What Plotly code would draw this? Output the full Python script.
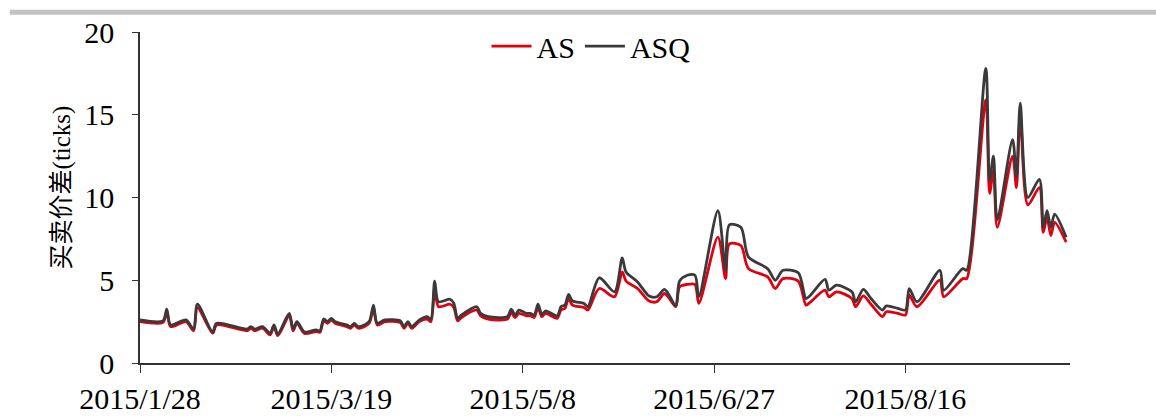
import plotly.graph_objects as go

dates = [
    "2015-01-28", "2015-02-03", "2015-02-04", "2015-02-05", "2015-02-09", "2015-02-11",
    "2015-02-12", "2015-02-16", "2015-02-17", "2015-02-25", "2015-02-26", "2015-02-27",
    "2015-03-01", "2015-03-03", "2015-03-04", "2015-03-05", "2015-03-08", "2015-03-09",
    "2015-03-10", "2015-03-12", "2015-03-15", "2015-03-16", "2015-03-17", "2015-03-18",
    "2015-03-19", "2015-03-20", "2015-03-23", "2015-03-24", "2015-03-25", "2015-03-26",
    "2015-03-28", "2015-03-29", "2015-03-30", "2015-03-31", "2015-04-02", "2015-04-06",
    "2015-04-07", "2015-04-08", "2015-04-09", "2015-04-11", "2015-04-13", "2015-04-14",
    "2015-04-15", "2015-04-16", "2015-04-19", "2015-04-20", "2015-04-21", "2015-04-22",
    "2015-04-26", "2015-04-27", "2015-04-29", "2015-05-04", "2015-05-05", "2015-05-06",
    "2015-05-07", "2015-05-09", "2015-05-10", "2015-05-11", "2015-05-12", "2015-05-13",
    "2015-05-14", "2015-05-17", "2015-05-18", "2015-05-19", "2015-05-20", "2015-05-21",
    "2015-05-24", "2015-05-25", "2015-05-28", "2015-06-01", "2015-06-03", "2015-06-04",
    "2015-06-07", "2015-06-10", "2015-06-12", "2015-06-14", "2015-06-15", "2015-06-17",
    "2015-06-18", "2015-06-20", "2015-06-22", "2015-06-23", "2015-06-28", "2015-06-30",
    "2015-07-01", "2015-07-04", "2015-07-06", "2015-07-11", "2015-07-13", "2015-07-15",
    "2015-07-19", "2015-07-21", "2015-07-22", "2015-07-26", "2015-07-27", "2015-07-29",
    "2015-08-02", "2015-08-03", "2015-08-05", "2015-08-07", "2015-08-10", "2015-08-11",
    "2015-08-14", "2015-08-16", "2015-08-17", "2015-08-19", "2015-08-25", "2015-08-26",
    "2015-08-31", "2015-09-01", "2015-09-06", "2015-09-07", "2015-09-08", "2015-09-09",
    "2015-09-13", "2015-09-14", "2015-09-15", "2015-09-17", "2015-09-20", "2015-09-21",
    "2015-09-22", "2015-09-23", "2015-09-24", "2015-09-27",
]

asq = [
    2.6, 2.55, 3.26, 2.3, 2.6, 2.05,
    3.56, 1.87, 2.4, 2.05, 2.2, 2.05,
    2.2, 1.8, 2.3, 1.75, 3.0, 2.05,
    2.5, 1.87, 2.0, 1.93, 2.66, 2.5,
    2.7, 2.5, 2.3, 2.2, 2.4, 2.2,
    2.35, 2.55, 3.5, 2.4, 2.6, 2.55,
    2.2, 2.5, 2.2, 2.6, 2.8, 2.65,
    4.95, 3.7, 3.85, 3.6, 2.7, 2.9,
    3.4, 3.0, 2.8, 2.8, 3.25, 2.9,
    3.2, 3.0, 3.0, 2.9, 3.55, 2.95,
    3.15, 2.85, 3.4, 3.5, 4.15, 3.75,
    3.6, 3.4, 5.15, 4.3, 6.35, 5.5,
    4.9, 4.05, 4.0, 4.45, 4.2, 3.45,
    4.95, 5.3, 5.3, 4.0, 9.2, 5.6,
    8.35, 8.2, 6.4, 5.7, 5.0, 5.6,
    5.45, 3.9, 4.05, 5.05, 4.4, 4.7,
    4.3, 3.7, 4.45, 3.9, 3.2, 3.45,
    3.3, 3.2, 4.5, 3.7, 5.6, 4.4,
    5.7, 5.6, 17.8, 11.05, 12.5, 8.65,
    13.5, 11.25, 15.7, 10.0, 11.1, 8.2,
    9.2, 8.2, 9.0, 7.6,
]

as_ = [
    2.5, 2.45, 3.1, 2.2, 2.5, 1.95,
    3.35, 1.8, 2.3, 1.95, 2.1, 1.95,
    2.1, 1.7, 2.2, 1.65, 2.85, 1.95,
    2.4, 1.78, 1.9, 1.85, 2.55, 2.4,
    2.6, 2.4, 2.2, 2.1, 2.3, 2.1,
    2.25, 2.45, 3.3, 2.3, 2.5, 2.45,
    2.1, 2.4, 2.1, 2.5, 2.65, 2.5,
    4.5, 3.4, 3.55, 3.35, 2.55, 2.75,
    3.2, 2.85, 2.65, 2.65, 3.05, 2.75,
    3.0, 2.85, 2.85, 2.75, 3.35, 2.8,
    3.0, 2.7, 3.2, 3.3, 3.9, 3.5,
    3.35, 3.2, 4.5, 4.0, 5.5, 4.95,
    4.5, 3.75, 3.7, 4.2, 4.0, 3.4,
    4.6, 4.75, 4.75, 3.6, 7.6, 5.1,
    7.2, 7.1, 5.7, 5.2, 4.5, 5.1,
    4.95, 3.5, 3.65, 4.4, 4.0, 4.3,
    3.9, 3.4, 4.05, 3.55, 2.8, 3.1,
    3.0, 2.9, 4.1, 3.4, 5.0, 4.0,
    5.1, 5.1, 15.9, 10.25, 11.65, 8.2,
    12.5, 10.6, 15.0, 9.55, 10.6, 7.9,
    8.8, 7.7, 8.5, 7.3,
]

tick_dates = ["2015-01-28", "2015-03-19", "2015-05-08", "2015-06-27", "2015-08-16"]
tick_labels = ["2015/1/28", "2015/3/19", "2015/5/8", "2015/6/27", "2015/8/16"]
y_ticks = [0, 5, 10, 15, 20]
y_title = "买卖价差(ticks)"

serif = "Times New Roman, Liberation Serif, Noto Sans CJK SC, serif"

fig = go.Figure()
fig.add_trace(go.Scatter(
    x=dates, y=as_, name="AS", mode="lines",
    line=dict(color="#e0000f", width=2.8, shape="spline", smoothing=0.8),
))
fig.add_trace(go.Scatter(
    x=dates, y=asq, name="ASQ", mode="lines",
    line=dict(color="#3a3a3a", width=2.8, shape="spline", smoothing=0.8),
))

fig.update_layout(
    width=1156, height=418,
    margin=dict(l=140, r=86, t=32, b=55, autoexpand=False),
    paper_bgcolor="white", plot_bgcolor="white",
    font=dict(family=serif, size=30, color="black"),
    showlegend=True,
    legend=dict(
        orientation="h", x=0.485, y=1.036, xanchor="center", yanchor="top",
        font=dict(size=30, family=serif), bgcolor="rgba(0,0,0,0)",
        itemwidth=40, tracegroupgap=0,
    ),
    xaxis=dict(
        type="date", range=["2015-01-28", "2015-09-28"],
        tickvals=tick_dates, ticktext=tick_labels,
        showgrid=False, zeroline=False, automargin=False,
        showline=True, linecolor="#333333", linewidth=1.5,
        ticks="outside", ticklen=8, tickcolor="#333333", tickwidth=1.2,
        tickfont=dict(size=30, family=serif),
    ),
    yaxis=dict(
        range=[0, 20], tickvals=y_ticks, automargin=False,
        showgrid=False, zeroline=False,
        showline=True, linecolor="#333333", linewidth=1.5,
        ticks="outside", ticklen=6, tickcolor="#333333", tickwidth=1.2,
        tickfont=dict(size=30, family=serif),
        ticklabelstandoff=12,
    ),
    annotations=[
        dict(text=y_title, xref="paper", yref="paper", x=-0.084, y=0.53,
             xanchor="center", yanchor="middle", textangle=-90, showarrow=False,
             font=dict(size=25, family=serif)),
    ],
    shapes=[
        dict(type="line", xref="paper", yref="paper",
             x0=-0.14, x1=1.1, y0=1.06, y1=1.06,
             line=dict(color="#c3c3c3", width=5)),
    ],
)

fig.write_html(
    "out.html",
    config={"displayModeBar": False},
    post_script="document.documentElement.style.margin='0';document.body.style.margin='0';document.body.style.overflow='hidden';",
)
